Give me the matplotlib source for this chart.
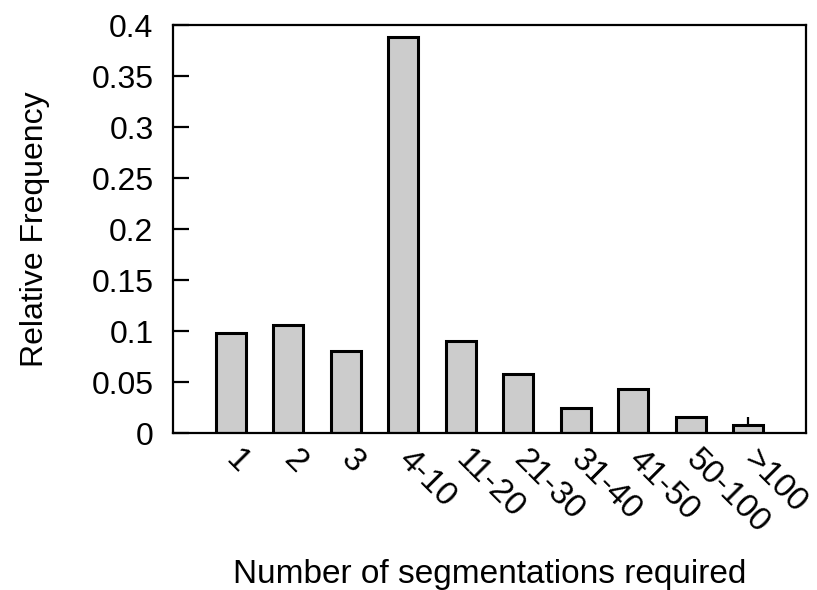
import matplotlib
matplotlib.use('Agg')
import matplotlib.pyplot as plt

# data
categories = ['1', '2', '3', '4-10', '11-20', '21-30', '31-40', '41-50', '50-100', '>100']
rel_freq = [0.098, 0.106, 0.080, 0.388, 0.090, 0.058, 0.025, 0.043, 0.016, 0.008]
y_ticks = [0, 0.05, 0.1, 0.15, 0.2, 0.25, 0.3, 0.35, 0.4]
y_tick_labels = ['0', '0.05', '0.1', '0.15', '0.2', '0.25', '0.3', '0.35', '0.4']

plt.rcParams['font.family'] = ['Liberation Sans', 'DejaVu Sans']

fig = plt.figure(figsize=(8.17, 5.9), dpi=100)
ax = fig.add_axes([0.2118, 0.2661, 0.7747, 0.6915])

x = list(range(len(categories)))
# x ticks first so bars cover them (gnuplot look)
ax.set_xticks(x)
ax.bar(x, rel_freq, width=0.52, color='#cccccc', edgecolor='black', linewidth=2.2, zorder=3)

ax.set_xlim(-1, len(categories))
ax.set_ylim(0, 0.4)
ax.set_yticks(y_ticks)
ax.set_yticklabels(y_tick_labels, fontsize=23)
ax.set_xticklabels(categories, fontsize=24, rotation=-45, ha='left', va='center',
                   rotation_mode='anchor')

ax.tick_params(axis='y', direction='in', length=11.5, width=1.6, pad=14, left=True, right=False)
ax.tick_params(axis='x', direction='in', length=11.5, width=1.6, pad=16, bottom=True)
for t in ax.xaxis.get_major_ticks():
    t.tick1line.set_zorder(1)

for s in ax.spines.values():
    s.set_linewidth(1.6)
    s.set_zorder(5)

ax.set_ylabel('Relative Frequency', fontsize=23, labelpad=30)
ax.set_xlabel('Number of segmentations required', fontsize=24, labelpad=14)

fig.savefig('out.png', dpi=100)
